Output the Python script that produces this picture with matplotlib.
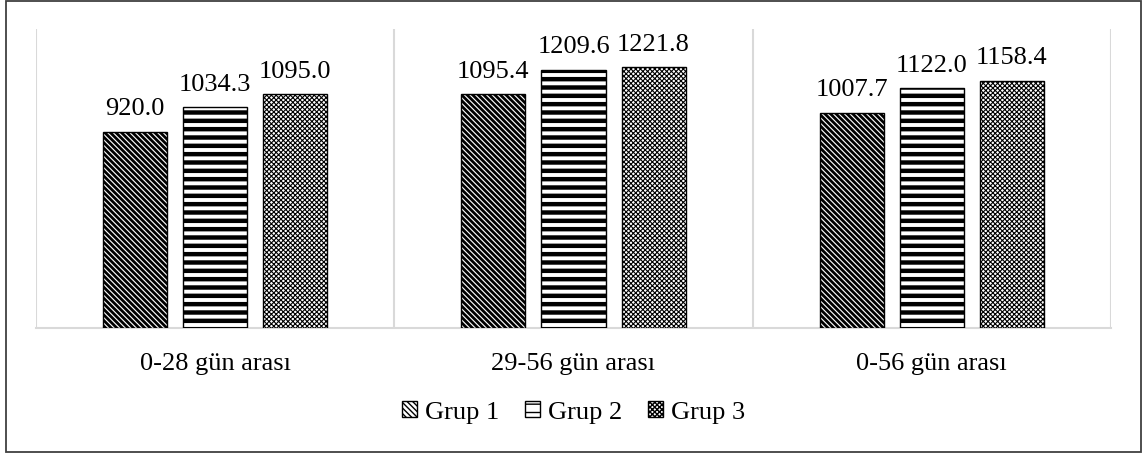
import matplotlib
matplotlib.use("Agg")
import matplotlib.pyplot as plt
from matplotlib.patches import Rectangle
import numpy as np

categories = ["0-28 gün arası", "29-56 gün arası", "0-56 gün arası"]
series_names = ["Grup 1", "Grup 2", "Grup 3"]
grup1 = [920.0, 1095.4, 1007.7]
grup2 = [1034.3, 1209.6, 1122.0]
grup3 = [1095.0, 1221.8, 1158.4]

plt.rcParams["font.family"] = ["Liberation Serif", "DejaVu Serif"]

fig = plt.figure(figsize=(11.47, 4.56), dpi=100)
ax = fig.add_axes([36 / 1147, 1 - 329 / 456, 1075 / 1147, 299 / 456])

x = np.arange(len(categories))
width = 0.179
step = 0.2235
hatches = ["\\" * 6, "--", "x" * 7]
hatch_lw = [2.0, 3.2, 0.8]
series = [grup1, grup2, grup3]

for i, (name, vals) in enumerate(zip(series_names, series)):
    with plt.rc_context({"hatch.linewidth": hatch_lw[i]}):
        bars = ax.bar(x + (i - 1) * step, vals, width, label=name,
                      facecolor="white", edgecolor="black", linewidth=1.0,
                      hatch=hatches[i], zorder=3)
    for b in bars:
        if hasattr(b, "set_hatch_linewidth"):
            b.set_hatch_linewidth(hatch_lw[i])
    for b, v in zip(bars, vals):
        ax.annotate(f"{v:.1f}", (b.get_x() + b.get_width() / 2, v),
                    xytext=(0, 9), textcoords="offset points",
                    ha="center", va="bottom", fontsize=19)

ax.set_xlim(-0.5, 2.5)
ax.set_ylim(0, 1400)
for xv in [-0.5, 0.5, 1.5, 2.5]:
    ax.axvline(xv, color="#d9d9d9", lw=1.5, zorder=1)
ax.axhline(0, color="#d9d9d9", lw=1.5, zorder=2, clip_on=False)

for s in ax.spines.values():
    s.set_visible(False)
ax.set_yticks([])
ax.set_xticks(x)
ax.set_xticklabels(categories, fontsize=19)
ax.tick_params(axis="x", length=0, pad=17)

handles, labels = ax.get_legend_handles_labels()
leg = fig.legend(handles, labels, loc="center", bbox_to_anchor=(0.5, 1 - 413 / 456),
                 ncol=3, frameon=False, fontsize=19, handlelength=0.55,
                 handleheight=0.55, handletextpad=0.3, columnspacing=1.0)

# outer frame
fig.add_artist(Rectangle((6 / 1147, 3 / 456), 1135 / 1147, 451 / 456,
                         transform=fig.transFigure, fill=False,
                         edgecolor="#404040", linewidth=1.3))

fig.savefig("out.png", dpi=100)
